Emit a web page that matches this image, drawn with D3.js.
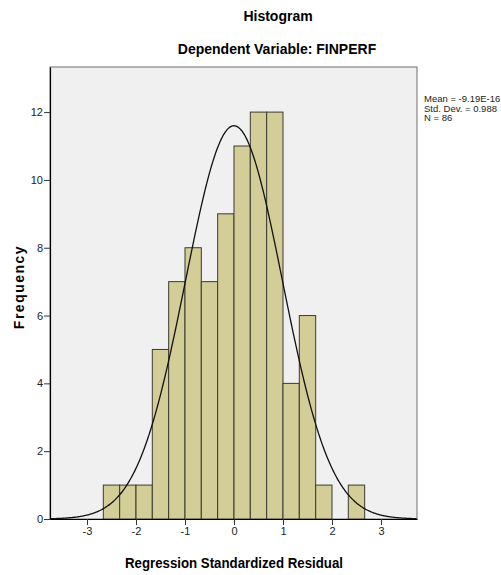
<!DOCTYPE html>
<html>
<head>
<meta charset="utf-8">
<script src="https://cdn.jsdelivr.net/npm/d3@7"></script>
<style>
  body { margin: 0; background: #fff; }
  text { font-family: "Liberation Sans", Arial, sans-serif; }
</style>
</head>
<body>
<svg width="501" height="575"></svg>
<script>
// histogram of regression standardized residuals (SPSS style)
var binEdges = [-2.667, -2.333, -2, -1.667, -1.333, -1, -0.667, -0.333, 0,
                0.333, 0.667, 1, 1.333, 1.667, 2, 2.333, 2.667];
var counts = [1, 1, 1, 5, 7, 8, 7, 9, 11, 12, 12, 4, 6, 1, 0, 1];
var xTicks = [-3, -2, -1, 0, 1, 2, 3];
var yTicks = [0, 2, 4, 6, 8, 10, 12];
var statMean = -9.19e-16, statSd = 0.988, statN = 86;
var statLabels = ["Mean = -9.19E-16", "Std. Dev. = 0.988", "N = 86"];

var svg = d3.select("svg"),
    margin = { top: 67, right: 84, bottom: 56, left: 50 },
    width = +svg.attr("width") - margin.left - margin.right,
    height = +svg.attr("height") - margin.top - margin.bottom,
    g = svg.append("g").attr("transform", "translate(" + margin.left + "," + margin.top + ")");

var x = d3.scaleLinear().domain([-3.755, 3.735]).range([0, width]);
var y = d3.scaleLinear().domain([0, 13.33]).range([height, 0]);

var bins = counts.map((c, i) => ({ x0: binEdges[i], x1: binEdges[i + 1], n: c }));

// plot background
g.append("rect")
    .attr("width", width)
    .attr("height", height)
    .attr("fill", "#f0f0f0")
    .attr("stroke", "#6e6e6e")
    .attr("stroke-width", 1);

g.selectAll(".bar")
    .data(bins.filter(d => d.n > 0))
    .enter().append("rect")
    .attr("class", "bar")
    .attr("x", d => x(d.x0))
    .attr("y", d => y(d.n))
    .attr("width", d => x(d.x1) - x(d.x0))
    .attr("height", d => y(0) - y(d.n))
    .attr("fill", "#d3ce97")
    .attr("stroke", "#3a3a30")
    .attr("stroke-width", 1);

// fitted normal curve
var binW = binEdges[1] - binEdges[0];
var curvePts = d3.range(x.domain()[0], x.domain()[1] + 0.001, 0.02).map(v => {
    var z = (v - statMean) / statSd;
    return [v, statN * binW * Math.exp(-0.5 * z * z) / (statSd * Math.sqrt(2 * Math.PI))];
});
g.append("path")
    .datum(curvePts)
    .attr("fill", "none")
    .attr("stroke", "#111")
    .attr("stroke-width", 1.3)
    .attr("d", d3.line().x(d => x(d[0])).y(d => y(d[1])).curve(d3.curveBasis));

// axes
var xAxis = g.append("g")
    .attr("transform", "translate(0," + height + ")")
    .call(d3.axisBottom(x).tickValues(xTicks).tickSizeInner(6).tickSizeOuter(0)
        .tickPadding(2).tickFormat(d => String(d)));
var yAxis = g.append("g")
    .call(d3.axisLeft(y).tickValues(yTicks).tickSizeInner(6).tickSizeOuter(0)
        .tickPadding(1).tickFormat(d => String(d)));
[xAxis, yAxis].forEach(a => {
    a.select(".domain").attr("stroke", "#000").attr("stroke-width", 1.2);
    a.selectAll(".tick line").attr("stroke", "#333");
    a.selectAll(".tick text")
        .attr("fill", "#222")
        .style("font-size", "11px")
        .style("font-family", "'Liberation Sans', Arial, sans-serif");
});

// titles
svg.append("text")
    .attr("x", 278).attr("y", 21)
    .attr("text-anchor", "middle")
    .style("font-size", "14px").style("font-weight", "bold")
    .text("Histogram");
svg.append("text")
    .attr("x", 277).attr("y", 54)
    .attr("text-anchor", "middle")
    .style("font-size", "14px").style("font-weight", "bold")
    .text("Dependent Variable: FINPERF");

svg.append("text")
    .attr("x", 234).attr("y", 568)
    .attr("text-anchor", "middle")
    .attr("textLength", 218).attr("lengthAdjust", "spacingAndGlyphs")
    .style("font-size", "15px").style("font-weight", "bold")
    .text("Regression Standardized Residual");

svg.append("text")
    .attr("transform", "translate(24,287) rotate(-90)")
    .attr("text-anchor", "middle")
    .style("font-size", "14px").style("font-weight", "bold")
    .style("letter-spacing", "1.5px")
    .text("Frequency");

svg.append("g")
    .selectAll("text")
    .data(statLabels)
    .enter().append("text")
    .attr("x", 424)
    .attr("y", (d, i) => 102 + i * 9.5)
    .style("font-size", "9.5px")
    .attr("fill", "#222")
    .text(d => d);
</script>
</body>
</html>
